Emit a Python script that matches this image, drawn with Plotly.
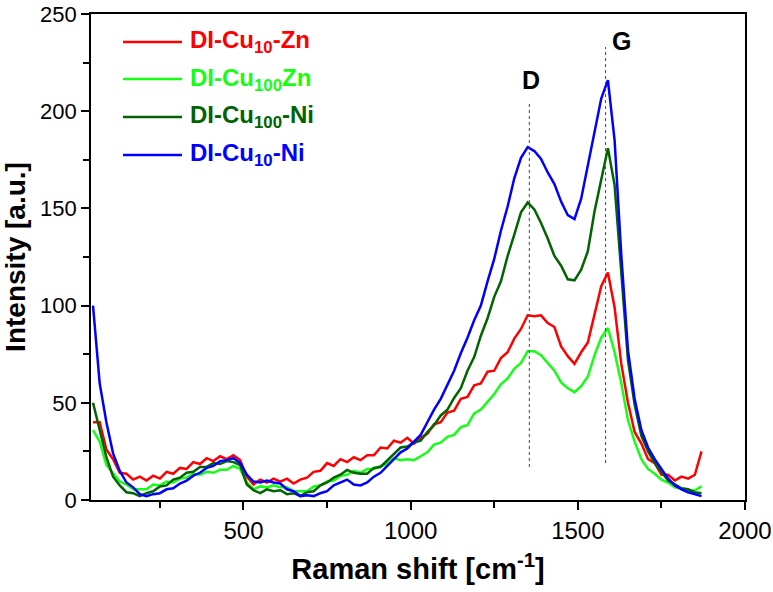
import plotly.graph_objects as go

# Raman shift grid (cm^-1)
raman_shift = list(range(50, 1871, 20))

# Intensities
di_cu10_zn = [40, 40, 26, 21, 14, 13.5, 10.5, 12, 10, 12.5,
              11, 14.5, 13.5, 16.5, 16, 19.5, 18.5, 21.5, 20, 22.5,
              21, 23, 20.5, 12, 8, 10.5, 9, 11, 9.5, 11,
              8.5, 10.5, 11.5, 14.5, 15, 19, 17.5, 21, 19.5, 22,
              20.5, 23, 23, 27, 26.5, 30.5, 29.5, 32, 29, 32,
              34, 39, 40, 45, 46, 52, 53, 59, 60, 66,
              66.5, 73, 76, 83, 88, 95, 94.5, 95, 91, 89,
              79, 74, 70, 76, 81, 96, 110, 117, 99, 70,
              50, 35, 29, 21, 19, 13, 13, 10, 12, 11,
              13, 25]
di_cu100_zn = [36, 30, 18, 13.5, 9.5, 8, 5.5, 5.5, 5.5, 8,
               7.5, 9.5, 9, 11, 11.5, 13.5, 13, 14.5, 14, 15.5,
               15.5, 17.5, 16, 9, 5.5, 7, 6.5, 7.5, 6.5, 6.5,
               4.5, 4.5, 4.5, 7, 7.5, 9.5, 10, 12.5, 13, 15,
               14, 16, 16, 17.5, 18.5, 21.5, 20.5, 21, 20.5, 22.5,
               24.5, 28.5, 29.5, 32.5, 33.5, 37.5, 38.5, 44.5, 46.5, 50.5,
               54.5, 59.5, 62.5, 67.5, 70.5, 76.5, 76.5, 74.5, 70.5, 66.5,
               60.5, 57.5, 55.5, 58.5, 63.5, 74.5, 83.5, 88.5, 76, 60,
               41, 30, 21, 16, 13.5, 10.5, 9, 6.5, 6, 4.5,
               5, 7]
di_cu100_ni = [50, 36, 22, 12, 7.5, 4, 3.5, 2, 3.5, 4.5,
               7, 7.5, 10.5, 11.5, 14, 14.5, 17, 17, 19, 18.5,
               20, 19.5, 18, 8, 5, 3.5, 5.5, 4.5, 5, 3,
               3.5, 2, 4, 4.5, 7.5, 9, 11.5, 13, 15.5, 14,
               13.5, 13.5, 16.5, 17, 20.5, 23.5, 27, 27.5, 29.5, 30.5,
               35, 38.5, 43.5, 46.5, 52.5, 57.5, 66.5, 73.5, 84.5, 93.5,
               104.5, 112.5, 125.5, 136.5, 148, 153, 149.5, 142.5, 134.5, 125.5,
               120.5, 113.5, 113, 118.5, 128, 148.5, 165.5, 181, 162, 118,
               72, 49, 33, 25, 19, 14.5, 10, 8, 6, 5.5,
               4, 3.5]
di_cu10_ni = [100, 60, 40, 24, 15, 9, 6.5, 3, 2, 3,
              3.5, 5.5, 6, 8.5, 10, 12.5, 14, 16.5, 17.5, 20,
              20.5, 21.5, 19, 13, 9.5, 9, 10, 9, 8.5, 5.5,
              4.5, 2, 2.5, 2, 3.5, 4.5, 7.5, 9, 10.5, 8,
              7.5, 9, 12, 14, 17.5, 21, 24.5, 26.5, 30, 33.5,
              40, 46.5, 52, 59.5, 66.5, 75.5, 83.5, 92.5, 100, 112.5,
              124, 138.5, 151, 165.5, 176, 181.5, 179.5, 175.5, 168.5, 162.5,
              153.5, 146.5, 144.5, 155, 172.5, 189, 206.5, 216, 185, 126,
              77, 52, 36, 27, 21, 16, 11, 7.5, 5.5, 4,
              3, 2]

series_names = ["DI-Cu<sub>10</sub>-Zn", "DI-Cu<sub>100</sub>Zn",
                "DI-Cu<sub>100</sub>-Ni", "DI-Cu<sub>10</sub>-Ni"]
series_values = [di_cu10_zn, di_cu100_zn, di_cu100_ni, di_cu10_ni]
series_colors = ["#ff0000", "#14ff14", "#006400", "#0000ff"]

# Peak annotations
peak_labels = ["D", "G"]
peak_pos = [1355, 1583]
peak_line_low = [17, 19]
peak_line_high = [205, 233]
peak_label_x = [1360, 1632]
peak_label_y = [216, 236]

x_ticks = [500, 1000, 1500, 2000]
y_ticks = [0, 50, 100, 150, 200, 250]

FONT = "Arial, Liberation Sans, sans-serif"

fig = go.Figure()
for name, vals, col in zip(series_names, series_values, series_colors):
    fig.add_trace(go.Scatter(x=raman_shift, y=vals, mode="lines", name=name,
                             line=dict(color=col, width=2.5), showlegend=False))

shapes = []
annotations = []
for lab, xp, lo, hi, lx, ly in zip(peak_labels, peak_pos, peak_line_low,
                                   peak_line_high, peak_label_x, peak_label_y):
    shapes.append(dict(type="line", xref="x", yref="y", x0=xp, x1=xp, y0=lo, y1=hi,
                       line=dict(color="#444444", width=1, dash="dot")))
    annotations.append(dict(x=lx, y=ly, xref="x", yref="y", text="<b>%s</b>" % lab,
                            showarrow=False, font=dict(family=FONT, size=25, color="black")))

# Manual legend (long line samples, coloured labels)
plot_l, plot_r, plot_t, plot_b = 91, 745, 14, 500
W, H = plot_r - plot_l, plot_b - plot_t
leg_rows = [42, 79, 117, 155]
for name, col, py in zip(series_names, series_colors, leg_rows):
    yp = 1 - (py - plot_t) / H
    shapes.append(dict(type="line", xref="paper", yref="paper",
                       x0=(123 - plot_l) / W, x1=(182 - plot_l) / W, y0=yp, y1=yp,
                       line=dict(color=col, width=2.5)))
    annotations.append(dict(x=(188 - plot_l) / W, y=yp, xref="paper", yref="paper",
                            xanchor="left", yanchor="middle", showarrow=False,
                            text="<b>%s</b>" % name,
                            font=dict(family=FONT, size=24, color=col)))

axis_common = dict(showline=True, linecolor="black", linewidth=1.6, mirror=True,
                   ticks="outside", ticklen=8, tickwidth=1.5, tickcolor="black",
                   showgrid=False, zeroline=False, automargin=False,
                   ticklabeloverflow="allow")

fig.update_layout(
    width=773, height=592,
    margin=dict(l=plot_l, r=773 - plot_r, t=plot_t, b=592 - plot_b),
    paper_bgcolor="white", plot_bgcolor="white",
    font=dict(family=FONT, color="black"),
    shapes=shapes, annotations=annotations,
    xaxis=dict(range=[44, 2000], tickvals=x_ticks, ticktext=[str(v) for v in x_ticks],
               tickfont=dict(size=24, family=FONT),
               minor=dict(tickvals=[250, 750, 1250, 1750], ticks="outside", ticklen=6,
                          tickwidth=1.5, tickcolor="black"),
               title=dict(text="<b>Raman shift [cm<sup>-1</sup>]</b>",
                          font=dict(size=29, family=FONT), standoff=16),
               **axis_common),
    yaxis=dict(range=[0, 250], tickvals=y_ticks,
               tickfont=dict(size=22, family=FONT),
               minor=dict(tickvals=[25, 75, 125, 175, 225], ticks="outside", ticklen=6,
                          tickwidth=1.5, tickcolor="black"),
               title=dict(text="<b>Intensity [a.u.]</b>",
                          font=dict(size=28, family=FONT), standoff=8),
               **axis_common),
)

fig.write_html("out.html")
